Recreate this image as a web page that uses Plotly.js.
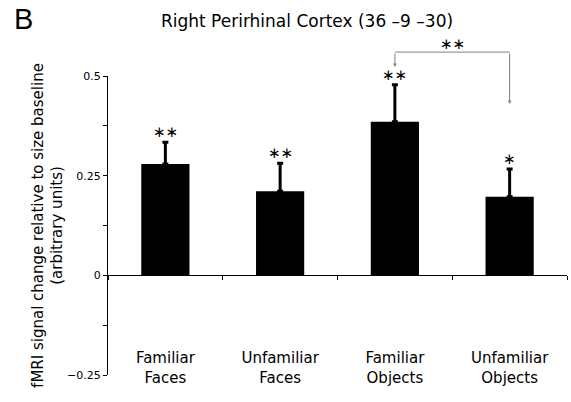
<!DOCTYPE html>
<html><head><meta charset="utf-8">
<script src="https://cdn.plot.ly/plotly-3.0.1.min.js"></script>
<style>html,body{margin:0;padding:0;background:#fff}#chart{width:571px;height:402px}</style>
</head><body><div id="chart"></div>
<script>
// ---- data ----
const categories = ["Familiar<br>Faces", "Unfamiliar<br>Faces", "Familiar<br>Objects", "Unfamiliar<br>Objects"];
const signalChange = [0.279, 0.211, 0.385, 0.197];
const errorUpper = [0.055, 0.070, 0.093, 0.070];
const significance = ["**", "**", "**", "*"];
const yTickValues = [-0.25, 0, 0.25, 0.5];
const yTickLabels = ["\u22120.25", "0", "0.25", "0.5"];
const yMinorTickValues = [-0.125, 0.125, 0.375];
const yRange = [-0.25, 0.5];
const comparisonPair = [2, 3];
const comparisonLabel = "**";
const bracketLevel = 0.56;
const bracketTipLevels = [0.5225, 0.43];

// ---- layout helpers ----
const W = 571, H = 402;
const margin = {l: 108, r: 4, t: 76, b: 27};
const plotW = W - margin.l - margin.r, plotH = H - margin.t - margin.b;
const pxPerUnit = plotH / (yRange[1] - yRange[0]);
const toPaperY = v => (v - yRange[0]) / (yRange[1] - yRange[0]);
const FONT = "DejaVu Sans, Verdana, sans-serif";
const GRAY = "#808080";

const trace = {
  type: "bar",
  x: categories,
  y: signalChange,
  width: 0.42,
  marker: {color: "#000", line: {width: 0}},
  error_y: {
    type: "data", symmetric: false,
    array: errorUpper, arrayminus: errorUpper.map(() => 0),
    color: "#000", thickness: 3, width: 3
  },
  hoverinfo: "none"
};

const annotations = [];
// significance stars
significance.forEach((s, i) => {
  annotations.push({
    x: categories[i], y: signalChange[i] + errorUpper[i], xref: "x", yref: "y",
    text: s.replace(/\*/g, "\u2217"), showarrow: false, yanchor: "bottom", yshift: -1,
    font: {family: FONT, size: 15, color: "#000"}
  });
});
// bracket arrows
comparisonPair.forEach((ci, k) => {
  annotations.push({
    x: categories[ci], y: toPaperY(bracketTipLevels[k]), xref: "x", yref: "paper",
    text: "", showarrow: true, ax: 0, ay: -(bracketLevel - bracketTipLevels[k]) * pxPerUnit,
    arrowhead: 2, arrowsize: 0.7, arrowwidth: 1, arrowcolor: GRAY, standoff: 0
  });
});
annotations.push({
  x: (comparisonPair[0] + comparisonPair[1]) / 2, y: toPaperY(bracketLevel), xref: "x", yref: "paper",
  text: comparisonLabel.replace(/\*/g, "\u2217"), showarrow: false, yanchor: "bottom", yshift: -3,
  font: {family: FONT, size: 15, color: "#000"}
});
// panel letter
annotations.push({
  x: (12 - margin.l) / plotW, y: (H - margin.b - 19) / plotH, xref: "paper", yref: "paper",
  text: "B", showarrow: false, xanchor: "left", yanchor: "middle",
  font: {family: "Liberation Sans, Arial, sans-serif", size: 29, color: "#000"}
});

const layout = {
  width: W, height: H, margin: margin,
  paper_bgcolor: "#fff", plot_bgcolor: "#fff",
  showlegend: false,
  font: {family: FONT, color: "#000"},
  title: {
    text: "Right Perirhinal Cortex (36 \u20139 \u201330)",
    font: {family: FONT, size: 17, color: "#000"},
    xref: "container", x: 307 / W, xanchor: "center",
    yref: "container", y: 1 - 21 / H, yanchor: "middle"
  },
  xaxis: {
    type: "category", range: [-0.5, 3.5],
    anchor: "free", position: toPaperY(0),
    showline: true, linecolor: "#000", linewidth: 1,
    ticks: "outside", tickson: "boundaries", ticklen: 4, tickcolor: "#000", tickwidth: 1,
    tickfont: {family: FONT, size: 15, color: "#000"},
    ticklabelstandoff: 69,
    showgrid: false, zeroline: false, fixedrange: true
  },
  yaxis: {
    range: yRange,
    showline: true, linecolor: "#000", linewidth: 1,
    ticks: "outside", ticklen: 4, tickcolor: "#000", tickwidth: 1,
    tickmode: "array", tickvals: yTickValues, ticktext: yTickLabels,
    tickfont: {family: FONT, size: 11, color: "#000"},
    minor: {tickmode: "array", tickvals: yMinorTickValues, ticks: "outside", ticklen: 4, tickcolor: "#000", showgrid: false},
    showgrid: false, zeroline: false, fixedrange: true,
    title: {text: "fMRI signal change relative to size baseline<br>(arbitrary units)",
            font: {family: FONT, size: 15, color: "#000"}, standoff: 0}
  },
  shapes: [{
    type: "line", xref: "x", yref: "paper",
    x0: categories[comparisonPair[0]], x1: categories[comparisonPair[1]],
    y0: toPaperY(bracketLevel), y1: toPaperY(bracketLevel),
    line: {color: GRAY, width: 1}
  }],
  annotations: annotations
};

Plotly.newPlot("chart", [trace], layout, {displayModeBar: false, staticPlot: true});
</script>
</body></html>
